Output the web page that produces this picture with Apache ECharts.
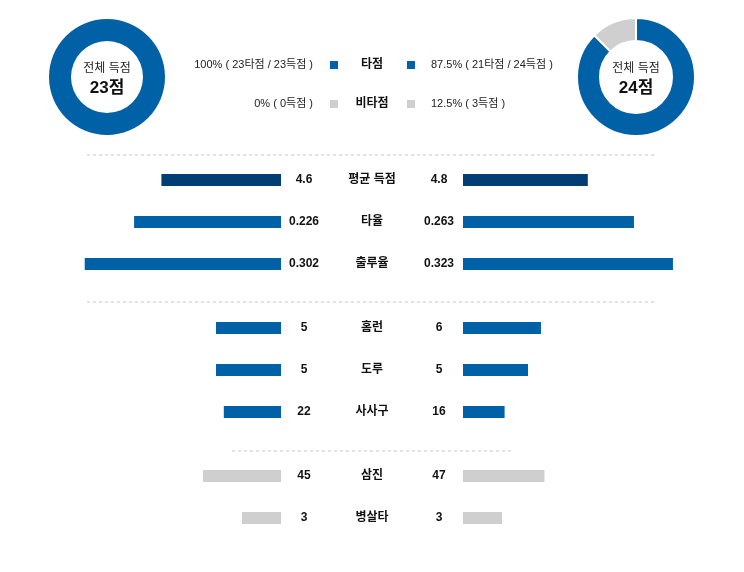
<!DOCTYPE html>
<html>
<head>
<meta charset="utf-8">
<script src="https://cdn.jsdelivr.net/npm/echarts@6/dist/echarts.min.js"></script>
<style>
	html, body { margin: 0; padding: 0; background: #fff; }
	#chart { width: 744px; height: 572px; }
</style>
</head>
<body>
<div id="chart"></div>
<script>
/* DATA */
var statNames = ['평균 득점', '타율', '출루율', '홈런', '도루', '사사구', '삼진', '병살타'];
var leftValues = [4.6, 0.226, 0.302, 5, 5, 22, 45, 3];
var rightValues = [4.8, 0.263, 0.323, 6, 5, 16, 47, 3];
var leftLabels = ['4.6', '0.226', '0.302', '5', '5', '22', '45', '3'];
var rightLabels = ['4.8', '0.263', '0.323', '6', '5', '16', '47', '3'];
var scaleMax = [10, 0.4, 0.4, 20, 20, 100, 150, 20];
var rowGroup = [0, 0, 0, 1, 1, 1, 2, 2];

var leftRbi = 23, leftTotal = 23;
var rightRbi = 21, rightTotal = 24;

/* STYLE */
var FONT = "'Liberation Sans', 'Noto Sans CJK KR', sans-serif";
var NAVY = '#023d73';
var BLUE = '#0061a6';
var GRAY = '#cfcfcf';
var rowColors = [NAVY, BLUE, BLUE, BLUE, BLUE, BLUE, GRAY, GRAY];
var groupTop = [180, 328, 476];
var rowStep = 42;

function rowY(i){
	var g = rowGroup[i];
	var first = rowGroup.indexOf(g);
	return groupTop[g] + (i - first) * rowStep;
}

function pct(a, b){
	var p = b ? a / b * 100 : 0;
	return (Math.round(p * 10) / 10) + '%';
}

function graphicBars(){
	var dom = document.getElementById('chart');
	var myChart = echarts.init(dom, null, {
		renderer: 'canvas',
		useDirtyRect: false
	});

	var grids = [], xAxes = [], yAxes = [], series = [];
	var graphics = [];

	statNames.forEach(function(name, i){
		var y = rowY(i);
		// left side
		grids.push({ left: 21, right: 744 - 281, top: y - 21, height: 42 });
		// right side
		grids.push({ left: 463, right: 21, top: y - 21, height: 42 });

		xAxes.push({ gridIndex: 2 * i, type: 'value', inverse: true, min: 0, max: scaleMax[i], show: false });
		xAxes.push({ gridIndex: 2 * i + 1, type: 'value', min: 0, max: scaleMax[i], show: false });

		yAxes.push({
			gridIndex: 2 * i, type: 'category', data: [name], position: 'right',
			axisLine: { show: false }, axisTick: { show: false }, splitLine: { show: false },
			axisLabel: {
				formatter: function(){ return leftLabels[i]; },
				align: 'center', margin: 23,
				fontFamily: FONT, fontSize: 12, fontWeight: 'bold', color: '#111'
			}
		});
		yAxes.push({
			gridIndex: 2 * i + 1, type: 'category', data: [name], position: 'left',
			axisLine: { show: false }, axisTick: { show: false }, splitLine: { show: false },
			axisLabel: {
				formatter: function(){ return rightLabels[i]; },
				align: 'center', margin: 24,
				fontFamily: FONT, fontSize: 12, fontWeight: 'bold', color: '#111'
			}
		});

		series.push({
			type: 'bar', xAxisIndex: 2 * i, yAxisIndex: 2 * i,
			data: [leftValues[i]], barWidth: 12, silent: true,
			itemStyle: { color: rowColors[i] }
		});
		series.push({
			type: 'bar', xAxisIndex: 2 * i + 1, yAxisIndex: 2 * i + 1,
			data: [rightValues[i]], barWidth: 12, silent: true,
			itemStyle: { color: rowColors[i] }
		});

		graphics.push({
			type: 'text', x: 372, y: y,
			style: {
				text: name, align: 'center', verticalAlign: 'middle',
				font: 'bold 12px ' + FONT, fill: '#111'
			}
		});
	});

	// dotted separators
	[[87, 655, 155], [87, 655, 302], [232, 511, 451]].forEach(function(s){
		graphics.push({
			type: 'line', silent: true,
			shape: { x1: s[0], y1: s[2], x2: s[1], y2: s[2] },
			style: { stroke: '#e3e3e3', lineWidth: 2, lineDash: [3, 3] }
		});
	});

	// donut centre text
	[[107, leftTotal], [636, rightTotal]].forEach(function(d){
		graphics.push({
			type: 'text', x: d[0], y: 69,
			style: { text: '전체 득점', align: 'center', verticalAlign: 'middle', font: '12px ' + FONT, fill: '#222' }
		});
		graphics.push({
			type: 'text', x: d[0], y: 88,
			style: { text: d[1] + '점', align: 'center', verticalAlign: 'middle', font: 'bold 17px ' + FONT, fill: '#111' }
		});
	});

	// legend rows
	var legendRows = [
		{ y: 65, color: BLUE, name: '타점',
		  left: pct(leftRbi, leftTotal) + ' ( ' + leftRbi + '타점 / ' + leftTotal + '득점 )',
		  right: pct(rightRbi, rightTotal) + ' ( ' + rightRbi + '타점 / ' + rightTotal + '득점 )' },
		{ y: 104, color: GRAY, name: '비타점',
		  left: pct(leftTotal - leftRbi, leftTotal) + ' ( ' + (leftTotal - leftRbi) + '득점 )',
		  right: pct(rightTotal - rightRbi, rightTotal) + ' ( ' + (rightTotal - rightRbi) + '득점 )' }
	];
	legendRows.forEach(function(r){
		graphics.push({ type: 'text', x: 313, y: r.y,
			style: { text: r.left, align: 'right', verticalAlign: 'middle', font: '11px ' + FONT, fill: '#222' } });
		graphics.push({ type: 'rect', shape: { x: 330, y: r.y - 4, width: 8, height: 8 }, style: { fill: r.color } });
		graphics.push({ type: 'text', x: 372, y: r.y,
			style: { text: r.name, align: 'center', verticalAlign: 'middle', font: 'bold 12px ' + FONT, fill: '#111' } });
		graphics.push({ type: 'rect', shape: { x: 407, y: r.y - 4, width: 8, height: 8 }, style: { fill: r.color } });
		graphics.push({ type: 'text', x: 431, y: r.y,
			style: { text: r.right, align: 'left', verticalAlign: 'middle', font: '11px ' + FONT, fill: '#222' } });
	});

	// donuts
	series.push({
		type: 'pie', center: [107, 77], radius: [36, 58], silent: true,
		label: { show: false }, labelLine: { show: false },
		data: [
			{ value: leftRbi, name: '타점', itemStyle: { color: BLUE } },
			{ value: leftTotal - leftRbi, name: '비타점', itemStyle: { color: GRAY } }
		]
	});
	series.push({
		type: 'pie', center: [636, 77], radius: [36, 59], silent: true,
		label: { show: false }, labelLine: { show: false },
		itemStyle: { borderColor: '#fff', borderWidth: 2 },
		data: [
			{ value: rightRbi, name: '타점', itemStyle: { color: BLUE } },
			{ value: rightTotal - rightRbi, name: '비타점', itemStyle: { color: GRAY } }
		]
	});

	var option = {
		animation: false,
		textStyle: { fontFamily: FONT },
		grid: grids,
		xAxis: xAxes,
		yAxis: yAxes,
		series: series,
		graphic: graphics
	};

	if (option && typeof option === 'object') {
		myChart.setOption(option);
	}
	window.addEventListener('resize', myChart.resize);
}
graphicBars()
</script>
</body>
</html>
